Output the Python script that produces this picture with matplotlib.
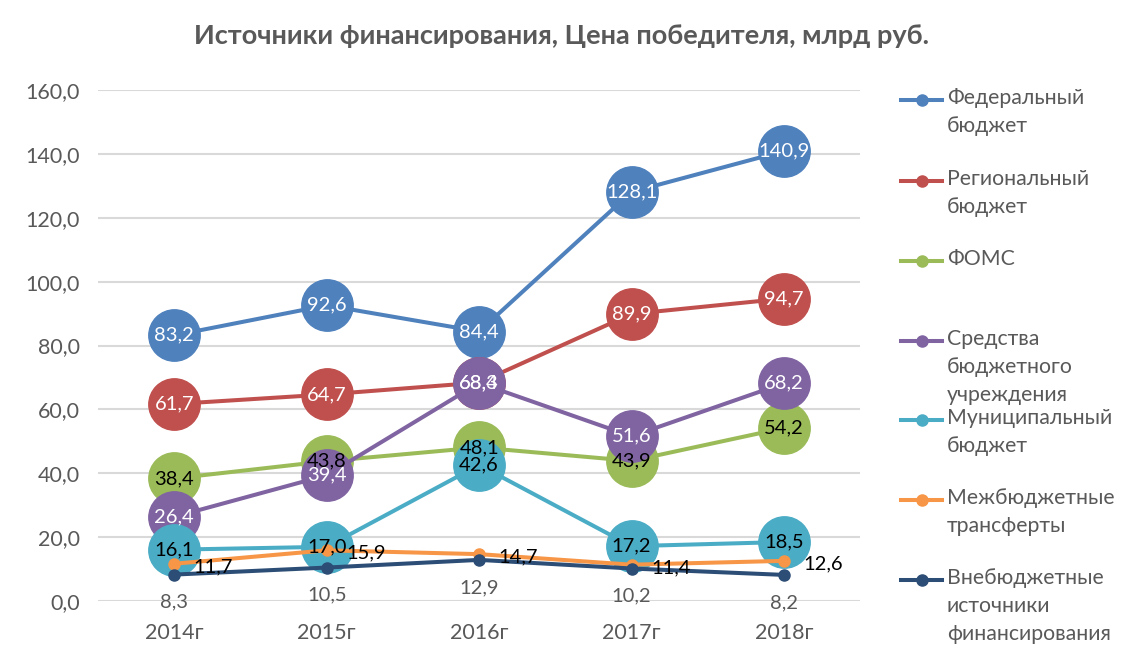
import matplotlib
matplotlib.use("Agg")
import matplotlib.pyplot as plt
from matplotlib.lines import Line2D
from matplotlib.ticker import FuncFormatter

plt.rcParams['font.family'] = ['Lato', 'DejaVu Sans']

# data
years = ['2014г', '2015г', '2016г', '2017г', '2018г']
federal = [83.2, 92.6, 84.4, 128.1, 140.9]
regional = [61.7, 64.7, 68.4, 89.9, 94.7]
foms = [38.4, 43.8, 48.1, 43.9, 54.2]
institution = [26.4, 39.4, 68.3, 51.6, 68.2]
municipal = [16.1, 17.0, 42.6, 17.2, 18.5]
transfers = [11.7, 15.9, 14.7, 11.4, 12.6]
offbudget = [8.3, 10.5, 12.9, 10.2, 8.2]

series_names = ['Федеральный\nбюджет', 'Региональный\nбюджет', 'ФОМС',
                'Средства\nбюджетного\nучреждения', 'Муниципальный\nбюджет',
                'Межбюджетные\nтрансферты', 'Внебюджетные\nисточники\nфинансирования']
series_values = [federal, regional, foms, institution, municipal, transfers, offbudget]
colors = ['#4F81BD', '#C0504D', '#9BBB59', '#8064A2', '#4BACC6', '#F79646', '#2C4D75']
label_colors = ['white', 'white', 'black', 'white', 'black', 'black', '#595959']
# 'c' = centred in a big bubble, 'r' = right of point, 'b' = below point
label_pos = ['c', 'c', 'c', 'c', 'c', 'r', 'b']

fig = plt.figure(figsize=(11.23, 6.62), dpi=100)
ax = fig.add_axes([0.0873, 0.092, 0.6787, 0.772])

x = list(range(len(years)))
for i, (vals, col) in enumerate(zip(series_values, colors)):
    big = label_pos[i] == 'c'
    ax.plot(x, vals, color=col, lw=2.9, marker='o',
            markersize=37 if big else 8, zorder=3 + i, solid_capstyle='round')

# data labels on top of everything
for i, vals in enumerate(series_values):
    for xi, v in zip(x, vals):
        txt = f'{v:.1f}'.replace('.', ',')
        if label_pos[i] == 'c':
            ax.annotate(txt, (xi, v), ha='center', va='center', fontsize=14.5,
                        color=label_colors[i], zorder=20)
        elif label_pos[i] == 'r':
            ax.annotate(txt, (xi, v), xytext=(14, -2), textcoords='offset points',
                        ha='left', va='center', fontsize=14.5,
                        color=label_colors[i], zorder=20)
        else:
            ax.annotate(txt, (xi, v), xytext=(0, -20), textcoords='offset points',
                        ha='center', va='center', fontsize=14.5,
                        color=label_colors[i], zorder=20)

ax.set_xlim(-0.5, len(years) - 0.5)
ax.set_ylim(0, 160)
ax.set_yticks(range(0, 161, 20))
ax.yaxis.set_major_formatter(FuncFormatter(lambda v, p: f'{v:.1f}'.replace('.', ',')))
ax.set_xticks(x)
ax.set_xticklabels(years)
ax.tick_params(length=0, labelsize=15.5, colors='#595959')
ax.tick_params(axis='x', pad=16)
ax.tick_params(axis='y', pad=13)
ax.grid(axis='y', color='#D9D9D9', lw=1.5, zorder=0)
ax.set_axisbelow(True)
for s in ax.spines.values():
    s.set_visible(False)

fig.text(0.5, 0.945, 'Источники финансирования, Цена победителя, млрд руб.',
         ha='center', va='center', fontsize=19.5, fontweight='bold', color='#595959')

# legend drawn by hand so the wrapped labels hang from the handle
leg_y = [100, 181, 261, 341, 420, 500, 580]
for name, col, yy in zip(series_names, colors, leg_y):
    fy = 1 - yy / 662
    fig.add_artist(Line2D([901 / 1123, 942 / 1123], [fy, fy], color=col, lw=2.9,
                          transform=fig.transFigure))
    fig.add_artist(Line2D([921.5 / 1123], [fy], color=col, marker='o', markersize=8,
                          transform=fig.transFigure))
    fig.text(947 / 1123, fy + 12 / 662, name, ha='left', va='top', fontsize=15.3,
             color='#595959', linespacing=1.5)

fig.savefig('out.png', dpi=100)
